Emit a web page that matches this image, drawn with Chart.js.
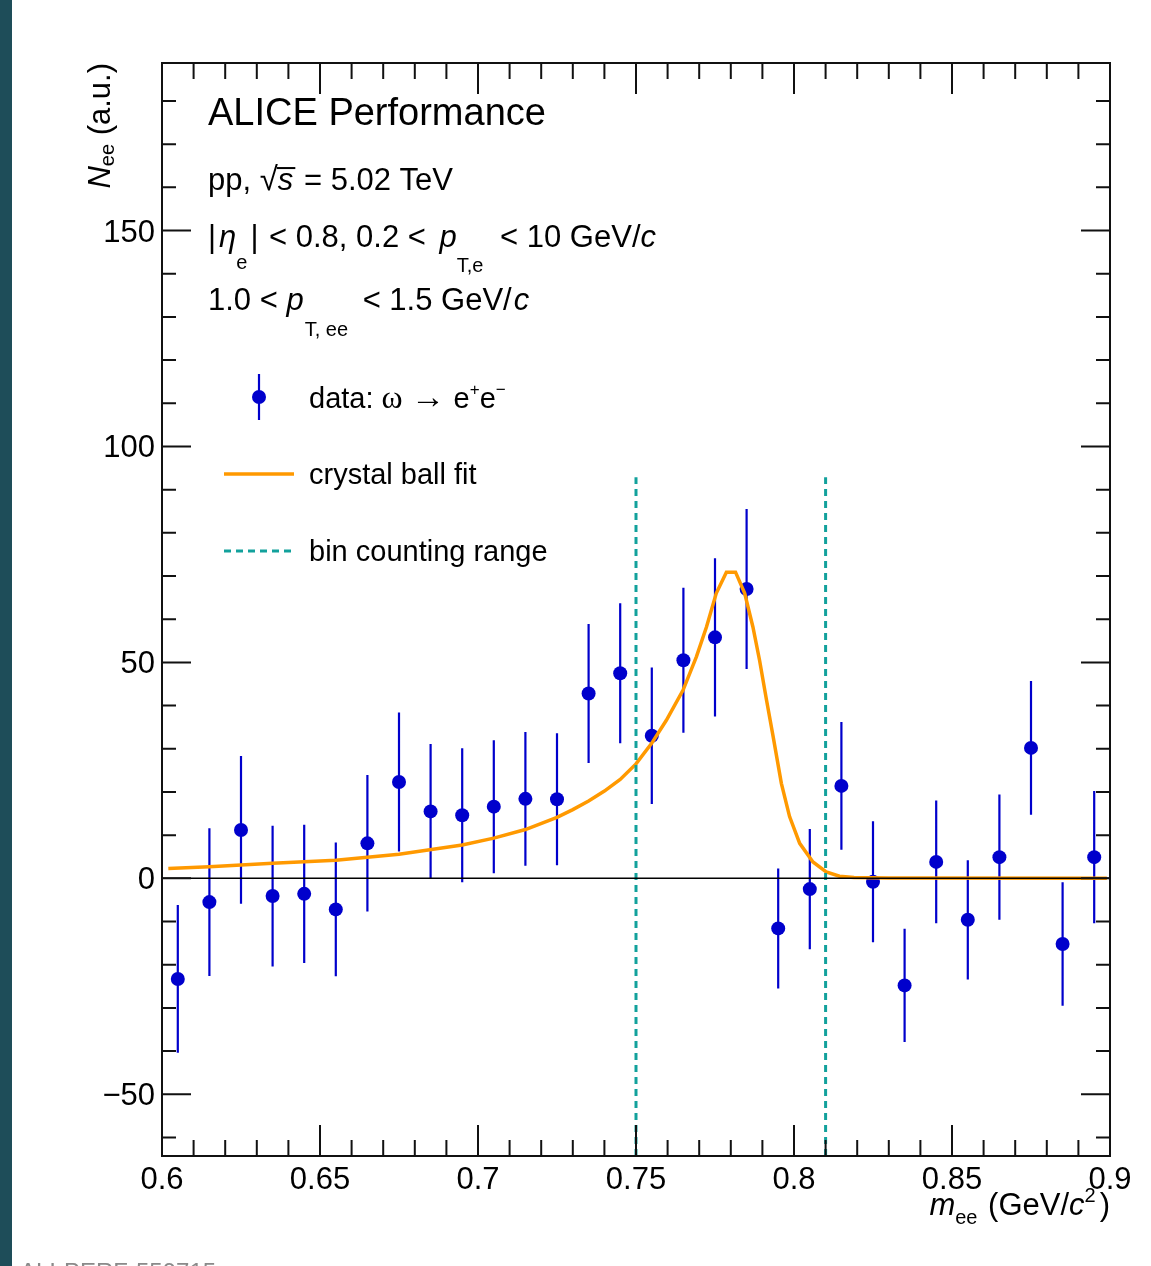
<!DOCTYPE html>
<html>
<head>
<meta charset="utf-8">
<title>omega to ee, pp 5.02 TeV</title>
<script src="https://cdn.jsdelivr.net/npm/chart.js@4.4.1/dist/chart.umd.min.js"></script>
<style>
    html, body { margin: 0; padding: 0; background: #fff; }
    canvas { display: block; }
</style>
</head>
<body>
<canvas id="massPlot" width="1151" height="1266"></canvas>
<script>
// m_ee bin centres (GeV/c^2), counts and errors
var massBins = [0.605, 0.615, 0.625, 0.635, 0.645, 0.655, 0.665, 0.675, 0.685, 0.695,
                0.705, 0.715, 0.725, 0.735, 0.745, 0.755, 0.765, 0.775, 0.785, 0.795,
                0.805, 0.815, 0.825, 0.835, 0.845, 0.855, 0.865, 0.875, 0.885, 0.895];
var counts = [-23.3, -5.5, 11.2, -4.1, -3.6, -7.2, 8.1, 22.3, 15.5, 14.6,
              16.6, 18.4, 18.3, 42.8, 47.5, 33.0, 50.5, 55.8, 67.0, -11.6,
              -2.5, 21.4, -0.8, -24.8, 3.8, -9.6, 4.9, 30.2, -15.2, 4.9];
var countErr = [17.1, 17.1, 17.1, 16.3, 16.0, 15.5, 15.8, 16.1, 15.6, 15.5,
                15.4, 15.5, 15.3, 16.1, 16.2, 15.8, 16.8, 18.3, 18.5, 13.9,
                13.9, 14.8, 14.0, 13.1, 14.2, 13.8, 14.5, 15.5, 14.3, 15.3];

// crystal ball fit curve
var fitMass = [0.602, 0.615, 0.635, 0.655, 0.675, 0.695, 0.705, 0.715, 0.725, 0.730,
               0.735, 0.740, 0.745, 0.750, 0.7549, 0.7596, 0.7649, 0.7691, 0.7723, 0.7754,
               0.7786, 0.7815, 0.7844, 0.7870, 0.7891, 0.7913, 0.7934, 0.7960, 0.7986, 0.8018,
               0.8060, 0.8102, 0.8144, 0.8190, 0.8300, 0.8990];
var fitVal = [2.3, 2.7, 3.5, 4.2, 5.6, 7.7, 9.3, 11.3, 14.1, 15.9,
              17.9, 20.2, 22.9, 26.5, 31.2, 36.6, 43.6, 51.3, 58.2, 66.0,
              70.9, 70.9, 66.0, 58.2, 50.5, 41.3, 32.8, 22.0, 14.3, 8.1,
              3.8, 1.5, 0.5, 0.2, 0.05, 0.0];

// bin counting window
var countRange = [0.75, 0.81];
var rangeTop = 92.9;

// axes
var xRange = [0.6, 0.9];
var yRange = [-64.3, 188.8];
var xTicks = [0.6, 0.65, 0.7, 0.75, 0.8, 0.85, 0.9];
var yTicks = [-50, 0, 50, 100, 150];

var SANS = '"Liberation Sans", Arial, Helvetica, sans-serif';
var SERIF = '"Liberation Serif", "Times New Roman", serif';
var BLUE = '#0000cc';
var ORANGE = '#ff9900';
var TEAL = '#12a19c';
var DASH = [7, 5];

function fontOf(r) {
    return (r.it ? 'italic ' : '') + (r.size || 31) + 'px ' + (r.serif ? SERIF : SANS);
}

// draws a row of text pieces (italics, sub/superscripts) one after another
function drawRuns(ctx, runs, x, y, align) {
    var widths = runs.map(function(r) {
        ctx.font = fontOf(r);
        return ctx.measureText(r.t).width + (r.pad || 0);
    });
    var total = widths.reduce(function(a, b) { return a + b; }, 0);
    var cx = align == 'right' ? x - total : x;
    runs.forEach(function(r, i) {
        ctx.font = fontOf(r);
        ctx.fillText(r.t, cx, y + (r.dy || 0));
        if (r.over) {
            ctx.fillRect(cx - 1, y - (r.size || 31) * 0.74, widths[i] + 1, 2);
        }
        cx += widths[i];
    });
}

var pageBits = {
    id: 'pageBits',
    beforeDraw: function(chart) {
        var ctx = chart.ctx;
        ctx.save();
        ctx.fillStyle = '#fff';
        ctx.fillRect(0, 0, chart.width, chart.height);
        ctx.fillStyle = '#1e4d59';
        ctx.fillRect(0, 0, 12, chart.height);
        ctx.restore();
    }
};

// vertical error bars under the markers
var errorBars = {
    id: 'errorBars',
    beforeDatasetDraw: function(chart, args) {
        if (args.meta.label != 'data') return;
        var ctx = chart.ctx, xs = chart.scales.x, ys = chart.scales.y;
        ctx.save();
        ctx.strokeStyle = BLUE;
        ctx.lineWidth = 2.2;
        ctx.beginPath();
        for (var i = 0; i < massBins.length; i++) {
            var px = xs.getPixelForValue(massBins[i]);
            ctx.moveTo(px, ys.getPixelForValue(counts[i] + countErr[i]));
            ctx.lineTo(px, ys.getPixelForValue(counts[i] - countErr[i]));
        }
        ctx.stroke();
        ctx.restore();
    }
};

// frame with inward ticks on all four sides, tick labels and titles
var rootFrame = {
    id: 'rootFrame',
    afterDraw: function(chart) {
        var ctx = chart.ctx, a = chart.chartArea, xs = chart.scales.x, ys = chart.scales.y;
        ctx.save();
        ctx.strokeStyle = '#111';
        ctx.lineWidth = 2;
        ctx.strokeRect(a.left, a.top, a.right - a.left, a.bottom - a.top);
        ctx.beginPath();
        for (var i = 61; i < 90; i++) {
            var px = xs.getPixelForValue(i / 100);
            var len = i % 5 == 0 ? 31 : 16;
            ctx.moveTo(px, a.bottom); ctx.lineTo(px, a.bottom - len);
            ctx.moveTo(px, a.top); ctx.lineTo(px, a.top + len);
        }
        for (var j = -60; j <= 180; j += 10) {
            var py = ys.getPixelForValue(j);
            var l2 = j % 50 == 0 ? 29 : 14;
            ctx.moveTo(a.left, py); ctx.lineTo(a.left + l2, py);
            ctx.moveTo(a.right, py); ctx.lineTo(a.right - l2, py);
        }
        ctx.stroke();

        ctx.fillStyle = '#000';
        ctx.font = '31px ' + SANS;
        ctx.textAlign = 'center';
        xTicks.forEach(function(v) {
            ctx.fillText(String(v), xs.getPixelForValue(v), a.bottom + 33);
        });
        ctx.textAlign = 'right';
        yTicks.forEach(function(v) {
            var txt = v < 0 ? '\u2212' + (-v) : String(v);
            ctx.fillText(txt, a.left - 7, ys.getPixelForValue(v) + 11);
        });
        ctx.textAlign = 'left';

        // axis titles
        drawRuns(ctx, [
            {t: 'm', it: true},
            {t: 'ee', size: 20, dy: 9, pad: 2},
            {t: ' (GeV/'},
            {t: 'c', it: true},
            {t: '2', size: 20, dy: -13, pad: 4},
            {t: ')'}
        ], a.right, 1215, 'right');

        ctx.save();
        ctx.translate(110, a.top);
        ctx.rotate(-Math.PI / 2);
        drawRuns(ctx, [
            {t: 'N', it: true},
            {t: 'ee', size: 20, dy: 4},
            {t: ' (a.u.)'}
        ], 0, 0, 'right');
        ctx.restore();

        // header text
        drawRuns(ctx, [{t: 'ALICE Performance', size: 38}], 208, 125);
        drawRuns(ctx, [
            {t: 'pp, '},
            {t: '\u221A', size: 33, pad: 0},
            {t: 's', it: true, over: true, pad: 2},
            {t: ' = 5.02 TeV'}
        ], 208, 190);
        drawRuns(ctx, [
            {t: '|', pad: 3},
            {t: '\u03B7', it: true},
            {t: 'e', size: 20, dy: 22, pad: 3},
            {t: '|', pad: 2},
            {t: ' < 0.8, 0.2 < ', pad: 5},
            {t: 'p', it: true},
            {t: 'T,e', size: 20, dy: 25, pad: 8},
            {t: ' < 10 GeV/'},
            {t: 'c', it: true}
        ], 208, 247);
        drawRuns(ctx, [
            {t: '1.0 < '},
            {t: 'p', it: true, pad: 1},
            {t: 'T, ee', size: 20, dy: 26, pad: 6},
            {t: ' < 1.5 GeV/', pad: 2},
            {t: 'c', it: true}
        ], 208, 310);

        // legend
        ctx.fillStyle = BLUE;
        ctx.strokeStyle = BLUE;
        ctx.lineWidth = 2.2;
        ctx.beginPath();
        ctx.moveTo(259, 374); ctx.lineTo(259, 420);
        ctx.stroke();
        ctx.beginPath();
        ctx.arc(259, 397, 7, 0, Math.PI * 2);
        ctx.fill();

        ctx.strokeStyle = ORANGE;
        ctx.lineWidth = 3.5;
        ctx.beginPath();
        ctx.moveTo(224, 474); ctx.lineTo(294, 474);
        ctx.stroke();

        ctx.strokeStyle = TEAL;
        ctx.lineWidth = 3;
        ctx.setLineDash(DASH);
        ctx.beginPath();
        ctx.moveTo(224, 551); ctx.lineTo(294, 551);
        ctx.stroke();
        ctx.setLineDash([]);

        ctx.fillStyle = '#000';
        drawRuns(ctx, [
            {t: 'data: ', size: 29},
            {t: '\u03C9', size: 32, serif: true},
            {t: ' \u2192 ', size: 34, serif: true},
            {t: 'e', size: 29},
            {t: '+', size: 17, dy: -13},
            {t: 'e', size: 29},
            {t: '\u2212', size: 17, dy: -13}
        ], 309, 408);
        drawRuns(ctx, [{t: 'crystal ball fit', size: 29}], 309, 484);
        drawRuns(ctx, [{t: 'bin counting range', size: 29}], 309, 561);

        // figure id along the bottom edge
        ctx.fillStyle = '#8a8a8a';
        ctx.font = '24px ' + SANS;
        ctx.fillText('ALI-PERF-559715', 20, 1280);
        ctx.restore();
    }
};

function pts(xs, ys) {
    return xs.map(function(x, i) { return {x: x, y: ys[i]}; });
}

var ctx = document.getElementById('massPlot').getContext('2d');

var chart1 = new Chart(ctx, {
    type: 'scatter',
    data: {
        datasets: [{
            label: 'zero',
            data: pts(xRange, [0, 0]),
            showLine: true,
            borderColor: '#000',
            borderWidth: 1.5,
            pointRadius: 0,
            order: 1
        }, {
            label: 'bin counting range',
            data: pts([countRange[0], countRange[0]], [yRange[0], rangeTop]),
            showLine: true,
            borderColor: TEAL,
            borderWidth: 3,
            borderDash: DASH,
            pointRadius: 0,
            order: 2
        }, {
            label: 'bin counting range',
            data: pts([countRange[1], countRange[1]], [yRange[0], rangeTop]),
            showLine: true,
            borderColor: TEAL,
            borderWidth: 3,
            borderDash: DASH,
            pointRadius: 0,
            order: 2
        }, {
            label: 'crystal ball fit',
            data: pts(fitMass, fitVal),
            showLine: true,
            borderColor: ORANGE,
            borderWidth: 3.5,
            tension: 0,
            pointRadius: 0,
            order: 3
        }, {
            label: 'data',
            data: pts(massBins, counts),
            pointRadius: 7,
            pointBackgroundColor: BLUE,
            pointBorderWidth: 0,
            order: 4
        }]
    },
    options: {
        responsive: false,
        animation: false,
        devicePixelRatio: 1,
        layout: { padding: { left: 162, right: 41, top: 63, bottom: 110 } },
        scales: {
            x: { type: 'linear', min: xRange[0], max: xRange[1], display: false },
            y: { type: 'linear', min: yRange[0], max: yRange[1], display: false }
        },
        plugins: {
            legend: { display: false },
            tooltip: { enabled: false }
        }
    },
    plugins: [pageBits, errorBars, rootFrame]
});
</script>
</body>
</html>
